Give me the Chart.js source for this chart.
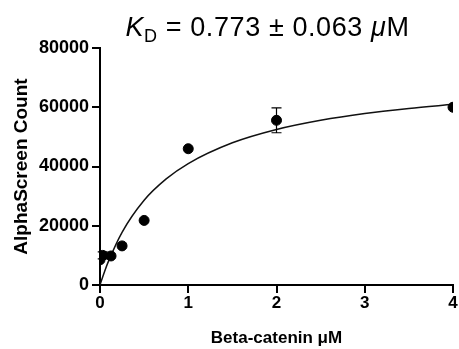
<!DOCTYPE html>
<html>
<head>
<meta charset="utf-8">
<script src="https://cdn.jsdelivr.net/npm/chart.js@4"></script>
<style>
  html, body { margin: 0; padding: 0; background: #fff; }
  #wrap { position: relative; width: 459px; height: 349px; }
  #kd-title {
    position: absolute; left: 0; top: 12px; width: 535px; text-align: center;
    font-family: Arial, 'Liberation Sans', sans-serif; font-size: 27px; color: #000;
    line-height: 30px; white-space: nowrap; letter-spacing: 0.6px;
  }
  #kd-title sub { font-size: 18px; vertical-align: -6px; line-height: 0; }
</style>
</head>
<body>
<div id="wrap">
  <canvas id="binding-chart" width="459" height="349"></canvas>
  <div id="kd-title"><i>K</i><sub>D</sub> = 0.773 ± 0.063 <i>μ</i>M</div>
</div>
<script>
// measured points (Beta-catenin uM vs AlphaScreen count)
const concentrations = [0, 0.031, 0.125, 0.25, 0.5, 1, 2, 4];
const counts = [8500, 10000, 9800, 13200, 21800, 46000, 55600, 60000];
const errors = [0, 1200, 0, 0, 0, 0, 4200, 0];

// fitted one-site curve
const fitX = [0, 0.05, 0.1, 0.25, 0.5, 0.75, 1, 1.5, 2, 2.5, 3, 3.5, 4];
const fitY = [0, 4400, 8300, 17800, 28600, 35800, 41000, 48000, 52500, 55600, 57900, 59600, 61000];

const xTicks = [0, 1, 2, 3, 4];
const yTicks = [0, 20000, 40000, 60000, 80000];

const FONT = "Arial, 'Liberation Sans', sans-serif";

// simple vertical error bars with caps, positioned through the chart scales
const errorBarPlugin = {
    id: 'errorBars',
    afterDatasetsDraw(chart) {
        const { ctx, scales: { x, y } } = chart;
        ctx.save();
        ctx.strokeStyle = '#000';
        ctx.lineWidth = 1.2;
        concentrations.forEach((c, i) => {
            if (!errors[i]) return;
            const px = x.getPixelForValue(c);
            const top = y.getPixelForValue(counts[i] + errors[i]);
            const bot = y.getPixelForValue(counts[i] - errors[i]);
            ctx.beginPath();
            ctx.moveTo(px, top); ctx.lineTo(px, bot);
            ctx.moveTo(px - 5, top); ctx.lineTo(px + 5, top);
            ctx.moveTo(px - 5, bot); ctx.lineTo(px + 5, bot);
            ctx.stroke();
        });
        ctx.restore();
    }
};

const axisStyle = {
    grid: { display: true, drawOnChartArea: false, drawTicks: true, tickLength: 8, color: '#000', lineWidth: 2 },
    border: { display: true, color: '#000', width: 2 },
};

new Chart(document.getElementById('binding-chart'), {
    type: 'scatter',
    data: {
        datasets: [
            {
                label: 'Fit',
                data: fitX.map((v, i) => ({ x: v, y: fitY[i] })),
                showLine: true,
                borderColor: '#111',
                borderWidth: 1.5,
                pointRadius: 0,
                cubicInterpolationMode: 'monotone',
                order: 2
            },
            {
                label: 'Data',
                data: concentrations.map((v, i) => ({ x: v, y: counts[i] })),
                backgroundColor: '#000',
                borderColor: '#000',
                pointRadius: 5,
                order: 1
            }
        ]
    },
    options: {
        responsive: false,
        animation: false,
        layout: { padding: { top: 48, right: 5, left: 0, bottom: 0 } },
        plugins: { legend: { display: false }, tooltip: { enabled: false } },
        scales: {
            x: {
                type: 'linear', min: 0, max: 4,
                afterBuildTicks: s => { s.ticks = xTicks.map(v => ({ value: v })); },
                afterFit: s => { s.height = 64; },
                ticks: { color: '#000', padding: 0, font: { family: FONT, size: 17, weight: 'bold' } },
                title: { display: true, text: 'Beta-catenin μM', color: '#000', padding: { top: 0, bottom: 0 },
                         font: { family: FONT, size: 17, weight: 'bold' } },
                ...axisStyle
            },
            y: {
                type: 'linear', min: 0, max: 80000,
                afterBuildTicks: s => { s.ticks = yTicks.map(v => ({ value: v })); },
                afterFit: s => { s.width = 100; },
                ticks: { color: '#000', padding: 3, font: { family: FONT, size: 18, weight: 'bold' }, callback: v => String(v) },
                title: { display: true, text: 'AlphaScreen Count', color: '#000', padding: { top: 10, bottom: 0 },
                         font: { family: FONT, size: 19, weight: 'bold' } },
                ...axisStyle
            }
        }
    },
    plugins: [errorBarPlugin]
});
</script>
</body>
</html>
